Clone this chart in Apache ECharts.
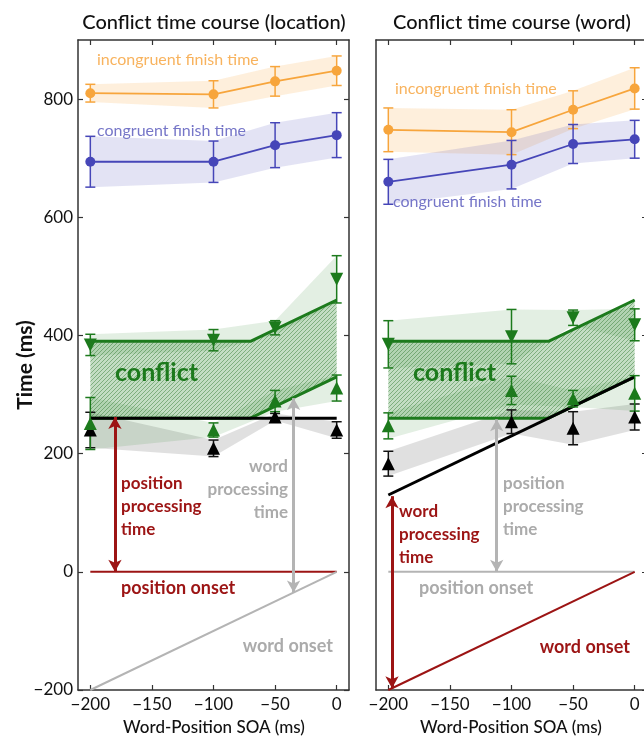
<!DOCTYPE html>
<html>
<head>
<meta charset="utf-8">
<script src="https://cdn.jsdelivr.net/npm/echarts@6/dist/echarts.min.js"></script>
<style>
  html, body { margin: 0; padding: 0; background: #fff; }
  #chart { width: 644px; height: 739px; }
</style>
</head>
<body>
<div id="chart"></div>
<script>
  // SOA conditions (ms)
  const soa = [-200, -100, -50, 0];
  const tickX = [-200, -150, -100, -50, 0];
  const tickY = [-200, 0, 200, 400, 600, 800];

  // location panel
  const locIncMean = [810, 808, 830, 848];
  const locIncErr = [15, 23, 25, 25];
  const locConMean = [694, 694, 722, 739];
  const locConErr = [43, 35, 38, 38];
  const locDownMean = [384, 392, 413, 495];
  const locDownErr = [18, 18, 12, 40];
  const locUpMean = [251, 240, 289, 311];
  const locUpErr = [44, 12, 18, 22];
  const locBlackMean = [240, 209, 262, 240];
  const locBlackErr = [30, 14, 6, 14];

  // word panel
  const wordIncMean = [748, 744, 782, 818];
  const wordIncErr = [37, 38, 32, 35];
  const wordConMean = [660, 689, 724, 732];
  const wordConErr = [38, 41, 33, 32];
  const wordDownMean = [385, 398, 430, 418];
  const wordDownErr = [40, 46, 13, 27];
  const wordUpMean = [247, 307, 293, 302];
  const wordUpErr = [22, 24, 14, 30];
  const wordBlackMean = [183, 254, 243, 262];
  const wordBlackErr = [21, 20, 28, 22];

  // model lines
  const fitUpper = [[-200, 390], [-70, 390], [0, 460]];
  const fitLower = [[-200, 260], [-70, 260], [0, 330]];
  const locBaseline = [[-200, 260], [0, 260]];
  const wordBaseline = [[-200, 130], [0, 330]];
  const flatOnset = [[-200, 0], [0, 0]];
  const slopeOnset = [[-200, -200], [0, 0]];

  // arrows
  const locPosArrow = [[-180, 262], [-180, 0]];
  const locWordArrow = [[-35, 294], [-35, -35]];
  const wordWordArrow = [[-197, 128], [-197, -197]];
  const wordPosArrow = [[-112, 258], [-112, 0]];

  const ORANGE = '#f7a53c', BLUE = '#4646b8', GREEN = '#1c7a1c', RED = '#9c1414', GRAY = '#b4b4b4';
  const FONT = 'Lato';

  // diagonal hatch tile
  const tile = document.createElement('canvas');
  tile.width = 4; tile.height = 4;
  const tc = tile.getContext('2d');
  tc.fillStyle = 'rgba(90,160,90,0.36)';
  tc.fillRect(0, 0, 4, 4);
  tc.strokeStyle = 'rgba(30,110,30,0.42)';
  tc.lineWidth = 1;
  tc.beginPath();
  tc.moveTo(0, 4); tc.lineTo(4, 0);
  tc.moveTo(-1, 1); tc.lineTo(1, -1);
  tc.moveTo(3, 5); tc.lineTo(5, 3);
  tc.stroke();

  const pts = (mean) => soa.map((x, i) => [x, mean[i]]);

  function polySeries(gi, poly, fill, z) {
    return {
      type: 'custom', xAxisIndex: gi, yAxisIndex: gi, z: z, silent: true,
      data: [[-100, 0]],
      renderItem: (params, api) => ({
        type: 'polygon',
        shape: { points: poly.map(p => api.coord(p)) },
        style: { fill: fill }
      })
    };
  }
  function bandSeries(gi, mean, err, fill) {
    const up = soa.map((x, i) => [x, mean[i] + err[i]]);
    const lo = soa.map((x, i) => [x, mean[i] - err[i]]).reverse();
    return polySeries(gi, up.concat(lo), fill, 1);
  }
  function errSeries(gi, mean, err, color) {
    return {
      type: 'custom', xAxisIndex: gi, yAxisIndex: gi, z: 5, silent: true,
      itemStyle: { color: color },
      data: soa.map((x, i) => [x, mean[i] - err[i], mean[i] + err[i]]),
      renderItem: (params, api) => {
        const x = api.value(0);
        const a = api.coord([x, api.value(2)]);
        const b = api.coord([x, api.value(1)]);
        const st = { stroke: color, lineWidth: 1.5 };
        const w = 5;
        return {
          type: 'group', children: [
            { type: 'line', shape: { x1: a[0], y1: a[1], x2: b[0], y2: b[1] }, style: st },
            { type: 'line', shape: { x1: a[0] - w, y1: a[1], x2: a[0] + w, y2: a[1] }, style: st },
            { type: 'line', shape: { x1: b[0] - w, y1: b[1], x2: b[0] + w, y2: b[1] }, style: st }
          ]
        };
      }
    };
  }
  function meanLine(gi, mean, color) {
    return {
      type: 'line', xAxisIndex: gi, yAxisIndex: gi, z: 6, silent: true,
      data: pts(mean), symbol: 'circle', symbolSize: 10,
      lineStyle: { color: color, width: 1.8 }, itemStyle: { color: color }
    };
  }
  function triSeries(gi, mean, color, down) {
    return {
      type: 'scatter', xAxisIndex: gi, yAxisIndex: gi, z: 7, silent: true,
      data: pts(mean), symbol: 'triangle', symbolSize: [13, 13],
      symbolRotate: down ? 180 : 0,
      itemStyle: { color: color, opacity: 1 }
    };
  }
  function plainLine(gi, data, color, width, z) {
    return {
      type: 'line', xAxisIndex: gi, yAxisIndex: gi, z: z, silent: true,
      data: data, symbol: 'none', lineStyle: { color: color, width: width }
    };
  }
  function arrowSeries(gi, arrow, color) {
    return {
      type: 'line', xAxisIndex: gi, yAxisIndex: gi, z: 8, silent: true,
      data: [], symbol: 'none',
      markLine: {
        silent: true, animation: false,
        symbol: ['arrow', 'arrow'], symbolSize: [10, 12],
        label: { show: false },
        lineStyle: { color: color, width: 3, type: 'solid' },
        data: [[{ coord: arrow[0] }, { coord: arrow[1] }]]
      }
    };
  }

  function panelSeries(gi, d) {
    const hatch = fitUpper.concat(fitLower.slice().reverse());
    return [
      bandSeries(gi, d.inc, d.incE, 'rgba(247,165,60,0.18)'),
      bandSeries(gi, d.con, d.conE, 'rgba(70,70,184,0.15)'),
      bandSeries(gi, d.black, d.blackE, 'rgba(0,0,0,0.12)'),
      bandSeries(gi, d.down, d.downE, 'rgba(40,130,40,0.13)'),
      bandSeries(gi, d.up, d.upE, 'rgba(40,130,40,0.13)'),
      polySeries(gi, hatch, { image: tile, repeat: 'repeat' }, 2),
      plainLine(gi, fitUpper, GREEN, 3, 3),
      plainLine(gi, fitLower, GREEN, 3, 3),
      plainLine(gi, d.base, '#000', 3, 4),
      plainLine(gi, flatOnset, d.flatColor, 2, 3),
      plainLine(gi, slopeOnset, d.slopeColor, 2, 3),
      errSeries(gi, d.inc, d.incE, ORANGE),
      errSeries(gi, d.con, d.conE, BLUE),
      errSeries(gi, d.black, d.blackE, '#111'),
      errSeries(gi, d.down, d.downE, GREEN),
      errSeries(gi, d.up, d.upE, GREEN),
      meanLine(gi, d.inc, ORANGE),
      meanLine(gi, d.con, BLUE),
      triSeries(gi, d.black, '#000', false),
      triSeries(gi, d.down, GREEN, true),
      triSeries(gi, d.up, GREEN, false),
      arrowSeries(gi, d.arrowA, d.arrowAColor),
      arrowSeries(gi, d.arrowB, d.arrowBColor)
    ];
  }

  const minus = v => (v < 0 ? '\u2212' + Math.abs(v) : String(v));
  const axisLine = { show: true, onZero: false, lineStyle: { color: '#333', width: 1.5 } };

  function xAxis(gi, pos, labels) {
    return {
      type: 'value', gridIndex: gi, position: pos, min: -210, max: 10,
      axisLine: axisLine,
      axisTick: { show: true, inside: true, length: 5, customValues: tickX, lineStyle: { color: '#333', width: 1.2 } },
      axisLabel: { show: labels, customValues: tickX, formatter: minus, color: '#111', fontFamily: FONT, fontSize: 17, margin: 6 },
      splitLine: { show: false }
    };
  }
  function yAxis(gi, pos, labels, ticks) {
    return {
      type: 'value', gridIndex: gi, position: pos, min: -200, max: 900,
      axisLine: axisLine,
      axisTick: { show: ticks, inside: true, length: 5, customValues: tickY, lineStyle: { color: '#333', width: 1.2 } },
      axisLabel: { show: labels, customValues: tickY, formatter: minus, color: '#111', fontFamily: FONT, fontSize: 17, margin: 5 },
      splitLine: { show: false }
    };
  }

  const notes = [
    ['Conflict time course (location)', 214, 23, '#111', '500 20px', 'center'],
    ['Conflict time course (word)', 512, 23, '#111', '500 20px', 'center'],
    ['Word-Position SOA (ms)', 214, 728, '#111', '500 17px', 'center'],
    ['Word-Position SOA (ms)', 511, 728, '#111', '500 17px', 'center'],
    ['incongruent finish time', 97, 60, '#f8b35e', '16px', 'left'],
    ['congruent finish time', 97, 131, '#7676c8', '16px', 'left'],
    ['incongruent finish time', 395, 89, '#f8b35e', '16px', 'left'],
    ['congruent finish time', 393, 202, '#7676c8', '16px', 'left'],
    ['conflict', 115, 373, GREEN, 'bold 25px', 'left'],
    ['conflict', 413, 373, GREEN, 'bold 25px', 'left'],
    ['position\nprocessing\ntime', 121, 507, RED, 'bold 17px', 'left'],
    ['word\nprocessing\ntime', 288, 490, '#ababab', 'bold 17px', 'right'],
    ['position onset', 121, 588, RED, 'bold 18px', 'left'],
    ['word onset', 333, 646, '#ababab', 'bold 18px', 'right'],
    ['word\nprocessing\ntime', 399, 535, RED, 'bold 17px', 'left'],
    ['position\nprocessing\ntime', 503, 507, '#ababab', 'bold 17px', 'left'],
    ['position onset', 419, 588, '#ababab', 'bold 18px', 'left'],
    ['word onset', 630, 647, RED, 'bold 18px', 'right']
  ];

  const chart = echarts.init(document.getElementById('chart'), null, { renderer: 'canvas' });
  chart.setOption({
    animation: false,
    backgroundColor: '#fff',
    textStyle: { fontFamily: FONT },
    grid: [
      { left: 78, top: 40, width: 271, height: 650, outerBoundsMode: 'none', containLabel: false },
      { left: 376, top: 40, width: 271, height: 650, outerBoundsMode: 'none', containLabel: false }
    ],
    xAxis: [xAxis(0, 'bottom', true), xAxis(1, 'bottom', true), xAxis(0, 'top', false), xAxis(1, 'top', false)],
    yAxis: [yAxis(0, 'left', true, true), yAxis(1, 'left', false, false), yAxis(0, 'right', false, true), yAxis(1, 'right', false, true)],
    graphic: notes.map(n => ({
      type: 'text', x: n[1], y: n[2], z: 100, silent: true,
      style: {
        text: n[0], fill: n[3], font: n[4] + ' ' + FONT,
        align: n[5], verticalAlign: 'middle', lineHeight: 23
      }
    })).concat([{
      type: 'text', x: 25, y: 365, rotation: Math.PI / 2, z: 100, silent: true,
      style: { text: 'Time (ms)', fill: '#111', font: 'bold 21px ' + FONT, align: 'center', verticalAlign: 'middle' }
    }]),
    series: [].concat(
      panelSeries(0, {
        inc: locIncMean, incE: locIncErr, con: locConMean, conE: locConErr,
        down: locDownMean, downE: locDownErr, up: locUpMean, upE: locUpErr,
        black: locBlackMean, blackE: locBlackErr, base: locBaseline,
        flatColor: RED, slopeColor: GRAY,
        arrowA: locPosArrow, arrowAColor: RED, arrowB: locWordArrow, arrowBColor: GRAY
      }),
      panelSeries(1, {
        inc: wordIncMean, incE: wordIncErr, con: wordConMean, conE: wordConErr,
        down: wordDownMean, downE: wordDownErr, up: wordUpMean, upE: wordUpErr,
        black: wordBlackMean, blackE: wordBlackErr, base: wordBaseline,
        flatColor: GRAY, slopeColor: RED,
        arrowA: wordWordArrow, arrowAColor: RED, arrowB: wordPosArrow, arrowBColor: GRAY
      })
    )
  });
</script>
</body>
</html>
